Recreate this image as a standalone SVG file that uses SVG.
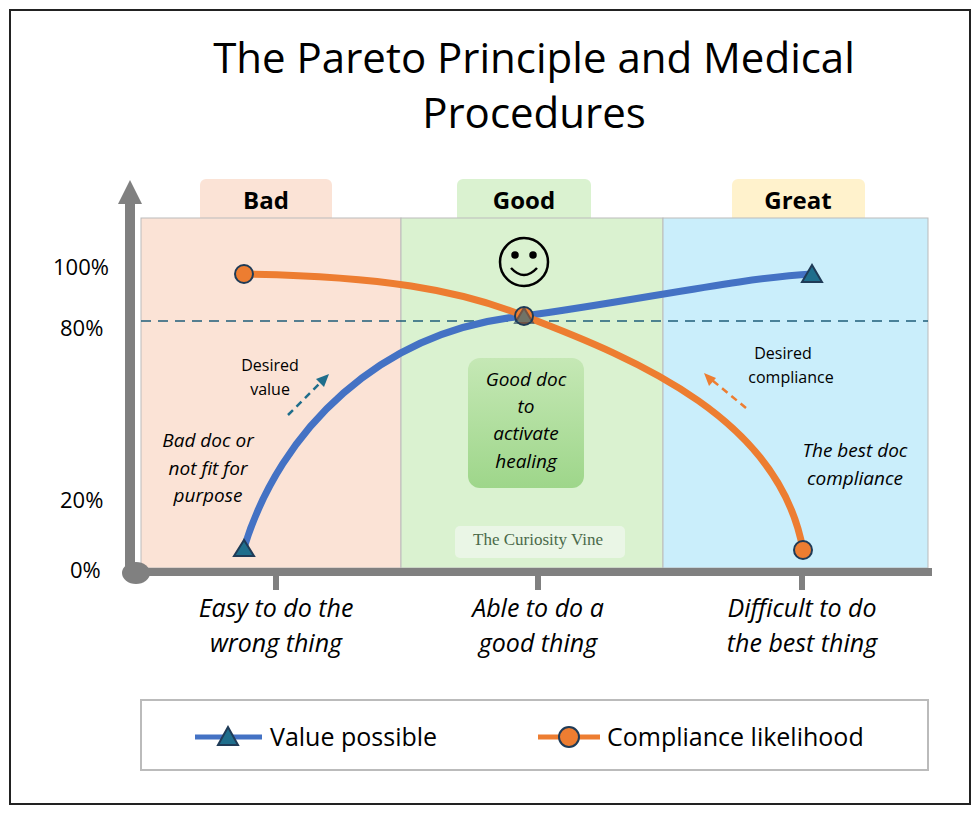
<svg xmlns="http://www.w3.org/2000/svg" width="980" height="817" viewBox="0 0 980 817">
<style>
.t{font-family:"Open Sans","Liberation Sans",Arial,sans-serif;fill:#000}
.tab{font-weight:bold;font-size:24px;text-anchor:middle}
.ax{font-size:22px}
.xl{font-size:25px;text-anchor:middle;font-style:italic}
.sm{font-size:16px;text-anchor:middle}
.it{font-size:19px;text-anchor:middle;font-style:italic}
</style>
<defs>
<linearGradient id="gb" x1="0" y1="0" x2="0" y2="1"><stop offset="0" stop-color="#c5e8b5"/><stop offset="1" stop-color="#9ed68a"/></linearGradient>
</defs>
<rect x="0" y="0" width="980" height="817" fill="#fff"/>
<rect x="10" y="10" width="960" height="794" fill="#fff" stroke="#222" stroke-width="2"/>
<g id="title"><text class="t" x="534" y="73" font-size="42" text-anchor="middle">The Pareto Principle and Medical</text><text class="t" x="534" y="128" font-size="42" text-anchor="middle">Procedures</text></g>
<g id="bad"><rect x="200" y="179" width="132" height="44" rx="6" fill="#fbe3d6"/><rect x="141" y="218" width="260" height="350" fill="#fbe3d6" stroke="#bbb"/><text class="t tab" x="266" y="209">Bad</text></g>
<g id="good"><rect x="457" y="179" width="134" height="44" rx="6" fill="#daf2d0"/><rect x="401" y="218" width="262" height="350" fill="#daf2d0" stroke="#bbb"/><text class="t tab" x="524" y="209">Good</text></g>
<g id="great"><rect x="732" y="179" width="133" height="44" rx="6" fill="#fff2cc"/><rect x="663" y="218" width="265" height="350" fill="#caeefb" stroke="#bbb"/><text class="t tab" x="798" y="209">Great</text></g>
<g id="axes" fill="#808080" stroke="#808080">
<line x1="130" y1="195" x2="130" y2="572" stroke-width="10"/><polygon points="130,180 118,204 142,204" stroke="none"/>
<line x1="130" y1="572" x2="932" y2="572" stroke-width="8"/><ellipse cx="136" cy="573" rx="14" ry="11" stroke="none"/>
<line x1="276" y1="572" x2="276" y2="590" stroke-width="6"/><line x1="538" y1="572" x2="538" y2="590" stroke-width="6"/><line x1="802" y1="572" x2="802" y2="590" stroke-width="6"/>
</g>
<g id="ylabels"><text class="t ax" x="53" y="275">100%</text><text class="t ax" x="60" y="336">80%</text><text class="t ax" x="60" y="508">20%</text><text class="t ax" x="70" y="578">0%</text></g>
<g id="connectors" fill="none">
<line x1="141" y1="321" x2="928" y2="321" stroke="#1f5e7a" stroke-width="1.5" stroke-dasharray="10,7"/>
<path d="M244,548 C280,430 380,330 524,316 C640,300 740,278 812,274" stroke="#4472c4" stroke-width="7"/>
<path d="M244,274 C380,276 460,290 524,316 C640,360 780,420 803,550" stroke="#ed7d31" stroke-width="7"/>
<line x1="288" y1="415" x2="322" y2="381" stroke="#1f6e8c" stroke-width="2.5" stroke-dasharray="7,5"/><polygon points="329,374 316,379 324,387" fill="#1f6e8c"/>
<line x1="746" y1="408" x2="712" y2="380" stroke="#ed7d31" stroke-width="2.5" stroke-dasharray="7,5"/><polygon points="704,373 709,386 716,378" fill="#ed7d31"/>
</g>
<g id="markers" stroke="#1f3b57" stroke-width="2">
<polygon points="244,540 234,556 254,556" fill="#1f6e8c"/><polygon points="812,265 802,282 822,282" fill="#1f6e8c"/>
<circle cx="244" cy="274" r="9" fill="#ed7d31"/><circle cx="803" cy="550" r="9" fill="#ed7d31"/>
<circle cx="524" cy="316" r="9" fill="#ed7d31"/><polygon points="524,308 515,323 533,323" fill="#1f6e8c" opacity="0.6"/>
</g>
<g id="smiley" fill="none" stroke="#000" stroke-width="2.5"><circle cx="524" cy="262" r="24"/><circle cx="515" cy="255" r="2.5" fill="#000"/><circle cx="533" cy="255" r="2.5" fill="#000"/><path d="M511,268 Q524,282 537,268"/></g>
<g id="gooddoc"><rect x="468" y="358" width="116" height="130" rx="12" fill="url(#gb)"/><text class="t it" x="526" y="386">Good doc</text><text class="t it" x="526" y="413">to</text><text class="t it" x="526" y="440">activate</text><text class="t it" x="526" y="468">healing</text></g>
<g id="notes">
<text class="t sm" x="270" y="371">Desired</text><text class="t sm" x="270" y="395">value</text>
<text class="t it" x="208" y="447">Bad doc or</text><text class="t it" x="208" y="475">not fit for</text><text class="t it" x="208" y="502">purpose</text>
<text class="t sm" x="783" y="359">Desired</text><text class="t sm" x="791" y="383">compliance</text>
<text class="t it" x="855" y="457">The best doc</text><text class="t it" x="855" y="485">compliance</text>
</g>
<g id="watermark"><rect x="455" y="526" width="170" height="32" rx="5" fill="#eaf6e6"/><text x="538" y="545" font-family="Liberation Serif,serif" font-size="17" fill="#4a6a4a" text-anchor="middle">The Curiosity Vine</text></g>
<g id="xlabels"><text class="t xl" x="276" y="617">Easy to do the</text><text class="t xl" x="276" y="652">wrong thing</text><text class="t xl" x="538" y="617">Able to do a</text><text class="t xl" x="538" y="652">good thing</text><text class="t xl" x="802" y="617">Difficult to do</text><text class="t xl" x="802" y="652">the best thing</text></g>
<g id="legend"><rect x="141" y="700" width="787" height="70" fill="#fff" stroke="#bbb" stroke-width="2"/>
<line x1="195" y1="737" x2="262" y2="737" stroke="#4472c4" stroke-width="5"/><polygon points="228,727 218,745 238,745" fill="#1f6e8c" stroke="#1f3b57" stroke-width="2"/><text class="t" x="270" y="746" font-size="25">Value possible</text>
<line x1="538" y1="737" x2="600" y2="737" stroke="#ed7d31" stroke-width="5"/><circle cx="569" cy="737" r="10" fill="#ed7d31" stroke="#1f3b57" stroke-width="2"/><text class="t" x="607" y="746" font-size="25">Compliance likelihood</text></g>
</svg>
